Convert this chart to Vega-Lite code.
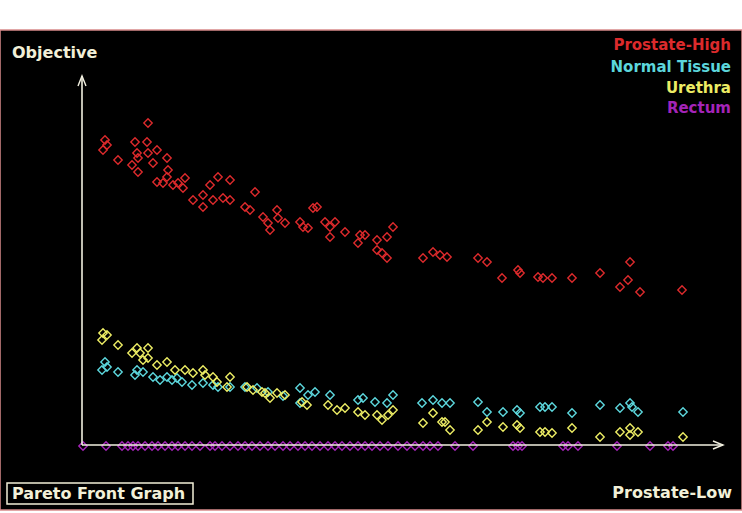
{
  "$schema": "https://vega.github.io/schema/vega-lite/v6.json",
  "width": 742,
  "height": 480,
  "autosize": {"type": "none"},
  "padding": {"left": 0, "right": 0, "top": 30, "bottom": 3},
  "background": "white",
  "config": {"view": {"fill": "black", "stroke": "#d88a8a", "strokeWidth": 1.5}},
  "datasets": {
    "points": [
      {"series":"Prostate-High","low":23,"objective":305},{"series":"Prostate-High","low":25,"objective":300},{"series":"Prostate-High","low":21,"objective":295},{"series":"Prostate-High","low":36,"objective":285},{"series":"Prostate-High","low":53,"objective":303},{"series":"Prostate-High","low":55,"objective":292},{"series":"Prostate-High","low":56,"objective":287},{"series":"Prostate-High","low":50,"objective":280},{"series":"Prostate-High","low":56,"objective":273},{"series":"Prostate-High","low":65,"objective":303},{"series":"Prostate-High","low":66,"objective":322},{"series":"Prostate-High","low":66,"objective":292},{"series":"Prostate-High","low":71,"objective":282},{"series":"Prostate-High","low":75,"objective":295},{"series":"Prostate-High","low":85,"objective":287},{"series":"Prostate-High","low":86,"objective":275},{"series":"Prostate-High","low":85,"objective":268},{"series":"Prostate-High","low":75,"objective":263},{"series":"Prostate-High","low":81,"objective":262},{"series":"Prostate-High","low":91,"objective":260},{"series":"Prostate-High","low":96,"objective":262},{"series":"Prostate-High","low":103,"objective":267},{"series":"Prostate-High","low":101,"objective":257},{"series":"Prostate-High","low":111,"objective":245},{"series":"Prostate-High","low":121,"objective":250},{"series":"Prostate-High","low":121,"objective":238},{"series":"Prostate-High","low":131,"objective":245},{"series":"Prostate-High","low":136,"objective":268},{"series":"Prostate-High","low":128,"objective":260},{"series":"Prostate-High","low":141,"objective":247},{"series":"Prostate-High","low":148,"objective":265},{"series":"Prostate-High","low":148,"objective":245},{"series":"Prostate-High","low":163,"objective":238},{"series":"Prostate-High","low":173,"objective":253},{"series":"Prostate-High","low":168,"objective":235},{"series":"Prostate-High","low":181,"objective":228},{"series":"Prostate-High","low":186,"objective":222},{"series":"Prostate-High","low":188,"objective":215},{"series":"Prostate-High","low":195,"objective":235},{"series":"Prostate-High","low":196,"objective":227},{"series":"Prostate-High","low":203,"objective":222},{"series":"Prostate-High","low":218,"objective":223},{"series":"Prostate-High","low":221,"objective":218},{"series":"Prostate-High","low":226,"objective":217},{"series":"Prostate-High","low":231,"objective":237},{"series":"Prostate-High","low":235,"objective":238},{"series":"Prostate-High","low":243,"objective":223},{"series":"Prostate-High","low":248,"objective":218},{"series":"Prostate-High","low":253,"objective":223},{"series":"Prostate-High","low":248,"objective":208},{"series":"Prostate-High","low":263,"objective":213},{"series":"Prostate-High","low":278,"objective":210},{"series":"Prostate-High","low":283,"objective":210},{"series":"Prostate-High","low":276,"objective":202},{"series":"Prostate-High","low":295,"objective":205},{"series":"Prostate-High","low":305,"objective":208},{"series":"Prostate-High","low":311,"objective":218},{"series":"Prostate-High","low":295,"objective":195},{"series":"Prostate-High","low":300,"objective":192},{"series":"Prostate-High","low":305,"objective":187},{"series":"Prostate-High","low":341,"objective":187},{"series":"Prostate-High","low":351,"objective":193},{"series":"Prostate-High","low":358,"objective":190},{"series":"Prostate-High","low":365,"objective":188},{"series":"Prostate-High","low":396,"objective":187},{"series":"Prostate-High","low":405,"objective":183},{"series":"Prostate-High","low":420,"objective":167},{"series":"Prostate-High","low":436,"objective":175},{"series":"Prostate-High","low":438,"objective":172},{"series":"Prostate-High","low":456,"objective":168},{"series":"Prostate-High","low":461,"objective":167},{"series":"Prostate-High","low":470,"objective":167},{"series":"Prostate-High","low":490,"objective":167},{"series":"Prostate-High","low":518,"objective":172},{"series":"Prostate-High","low":548,"objective":183},{"series":"Prostate-High","low":538,"objective":158},{"series":"Prostate-High","low":546,"objective":165},{"series":"Prostate-High","low":558,"objective":153},{"series":"Prostate-High","low":600,"objective":155},
      {"series":"Normal Tissue","low":23,"objective":83},{"series":"Normal Tissue","low":20,"objective":75},{"series":"Normal Tissue","low":25,"objective":78},{"series":"Normal Tissue","low":36,"objective":73},{"series":"Normal Tissue","low":55,"objective":75},{"series":"Normal Tissue","low":53,"objective":70},{"series":"Normal Tissue","low":61,"objective":73},{"series":"Normal Tissue","low":71,"objective":68},{"series":"Normal Tissue","low":78,"objective":65},{"series":"Normal Tissue","low":85,"objective":68},{"series":"Normal Tissue","low":90,"objective":65},{"series":"Normal Tissue","low":95,"objective":67},{"series":"Normal Tissue","low":100,"objective":63},{"series":"Normal Tissue","low":110,"objective":60},{"series":"Normal Tissue","low":121,"objective":62},{"series":"Normal Tissue","low":131,"objective":60},{"series":"Normal Tissue","low":136,"objective":58},{"series":"Normal Tissue","low":148,"objective":58},{"series":"Normal Tissue","low":163,"objective":58},{"series":"Normal Tissue","low":175,"objective":57},{"series":"Normal Tissue","low":186,"objective":53},{"series":"Normal Tissue","low":201,"objective":49},{"series":"Normal Tissue","low":218,"objective":57},{"series":"Normal Tissue","low":226,"objective":50},{"series":"Normal Tissue","low":233,"objective":53},{"series":"Normal Tissue","low":218,"objective":42},{"series":"Normal Tissue","low":248,"objective":50},{"series":"Normal Tissue","low":276,"objective":45},{"series":"Normal Tissue","low":281,"objective":47},{"series":"Normal Tissue","low":293,"objective":43},{"series":"Normal Tissue","low":305,"objective":42},{"series":"Normal Tissue","low":311,"objective":50},{"series":"Normal Tissue","low":340,"objective":42},{"series":"Normal Tissue","low":351,"objective":45},{"series":"Normal Tissue","low":360,"objective":42},{"series":"Normal Tissue","low":368,"objective":42},{"series":"Normal Tissue","low":396,"objective":43},{"series":"Normal Tissue","low":405,"objective":33},{"series":"Normal Tissue","low":421,"objective":33},{"series":"Normal Tissue","low":435,"objective":35},{"series":"Normal Tissue","low":438,"objective":32},{"series":"Normal Tissue","low":458,"objective":38},{"series":"Normal Tissue","low":463,"objective":38},{"series":"Normal Tissue","low":470,"objective":38},{"series":"Normal Tissue","low":490,"objective":32},{"series":"Normal Tissue","low":518,"objective":40},{"series":"Normal Tissue","low":538,"objective":37},{"series":"Normal Tissue","low":548,"objective":42},{"series":"Normal Tissue","low":550,"objective":38},{"series":"Normal Tissue","low":556,"objective":33},{"series":"Normal Tissue","low":601,"objective":33},
      {"series":"Urethra","low":21,"objective":112},{"series":"Urethra","low":25,"objective":110},{"series":"Urethra","low":20,"objective":105},{"series":"Urethra","low":36,"objective":100},{"series":"Urethra","low":55,"objective":97},{"series":"Urethra","low":50,"objective":92},{"series":"Urethra","low":58,"objective":92},{"series":"Urethra","low":66,"objective":97},{"series":"Urethra","low":66,"objective":87},{"series":"Urethra","low":61,"objective":85},{"series":"Urethra","low":75,"objective":80},{"series":"Urethra","low":85,"objective":83},{"series":"Urethra","low":93,"objective":75},{"series":"Urethra","low":103,"objective":75},{"series":"Urethra","low":111,"objective":72},{"series":"Urethra","low":121,"objective":75},{"series":"Urethra","low":123,"objective":70},{"series":"Urethra","low":131,"objective":68},{"series":"Urethra","low":135,"objective":63},{"series":"Urethra","low":148,"objective":68},{"series":"Urethra","low":145,"objective":58},{"series":"Urethra","low":165,"objective":58},{"series":"Urethra","low":171,"objective":55},{"series":"Urethra","low":180,"objective":53},{"series":"Urethra","low":183,"objective":52},{"series":"Urethra","low":188,"objective":47},{"series":"Urethra","low":195,"objective":52},{"series":"Urethra","low":203,"objective":50},{"series":"Urethra","low":220,"objective":43},{"series":"Urethra","low":225,"objective":40},{"series":"Urethra","low":246,"objective":40},{"series":"Urethra","low":255,"objective":35},{"series":"Urethra","low":263,"objective":37},{"series":"Urethra","low":276,"objective":33},{"series":"Urethra","low":283,"objective":30},{"series":"Urethra","low":295,"objective":30},{"series":"Urethra","low":300,"objective":25},{"series":"Urethra","low":306,"objective":30},{"series":"Urethra","low":311,"objective":35},{"series":"Urethra","low":351,"objective":32},{"series":"Urethra","low":360,"objective":23},{"series":"Urethra","low":341,"objective":22},{"series":"Urethra","low":363,"objective":23},{"series":"Urethra","low":368,"objective":15},{"series":"Urethra","low":396,"objective":15},{"series":"Urethra","low":405,"objective":23},{"series":"Urethra","low":421,"objective":18},{"series":"Urethra","low":435,"objective":20},{"series":"Urethra","low":438,"objective":17},{"series":"Urethra","low":458,"objective":13},{"series":"Urethra","low":463,"objective":13},{"series":"Urethra","low":470,"objective":12},{"series":"Urethra","low":490,"objective":17},{"series":"Urethra","low":518,"objective":8},{"series":"Urethra","low":538,"objective":13},{"series":"Urethra","low":548,"objective":17},{"series":"Urethra","low":548,"objective":10},{"series":"Urethra","low":556,"objective":13},{"series":"Urethra","low":601,"objective":8},
      {"series":"Rectum","low":1,"objective":-1},{"series":"Rectum","low":24,"objective":-1},{"series":"Rectum","low":40,"objective":-1},{"series":"Rectum","low":46,"objective":-1},{"series":"Rectum","low":51,"objective":-1},{"series":"Rectum","low":56,"objective":-1},{"series":"Rectum","low":63,"objective":-1},{"series":"Rectum","low":70,"objective":-1},{"series":"Rectum","low":76,"objective":-1},{"series":"Rectum","low":83,"objective":-1},{"series":"Rectum","low":90,"objective":-1},{"series":"Rectum","low":96,"objective":-1},{"series":"Rectum","low":103,"objective":-1},{"series":"Rectum","low":110,"objective":-1},{"series":"Rectum","low":118,"objective":-1},{"series":"Rectum","low":128,"objective":-1},{"series":"Rectum","low":133,"objective":-1},{"series":"Rectum","low":140,"objective":-1},{"series":"Rectum","low":148,"objective":-1},{"series":"Rectum","low":156,"objective":-1},{"series":"Rectum","low":163,"objective":-1},{"series":"Rectum","low":170,"objective":-1},{"series":"Rectum","low":178,"objective":-1},{"series":"Rectum","low":186,"objective":-1},{"series":"Rectum","low":193,"objective":-1},{"series":"Rectum","low":201,"objective":-1},{"series":"Rectum","low":208,"objective":-1},{"series":"Rectum","low":216,"objective":-1},{"series":"Rectum","low":223,"objective":-1},{"series":"Rectum","low":230,"objective":-1},{"series":"Rectum","low":238,"objective":-1},{"series":"Rectum","low":246,"objective":-1},{"series":"Rectum","low":253,"objective":-1},{"series":"Rectum","low":260,"objective":-1},{"series":"Rectum","low":268,"objective":-1},{"series":"Rectum","low":276,"objective":-1},{"series":"Rectum","low":283,"objective":-1},{"series":"Rectum","low":290,"objective":-1},{"series":"Rectum","low":298,"objective":-1},{"series":"Rectum","low":306,"objective":-1},{"series":"Rectum","low":316,"objective":-1},{"series":"Rectum","low":325,"objective":-1},{"series":"Rectum","low":333,"objective":-1},{"series":"Rectum","low":341,"objective":-1},{"series":"Rectum","low":348,"objective":-1},{"series":"Rectum","low":356,"objective":-1},{"series":"Rectum","low":373,"objective":-1},{"series":"Rectum","low":391,"objective":-1},{"series":"Rectum","low":431,"objective":-1},{"series":"Rectum","low":436,"objective":-1},{"series":"Rectum","low":440,"objective":-1},{"series":"Rectum","low":481,"objective":-1},{"series":"Rectum","low":486,"objective":-1},{"series":"Rectum","low":496,"objective":-1},{"series":"Rectum","low":535,"objective":-1},{"series":"Rectum","low":568,"objective":-1},{"series":"Rectum","low":586,"objective":-1},{"series":"Rectum","low":591,"objective":-1}
    ],
    "legend": [
      {"series":"Prostate-High","low":649,"objective":400},
      {"series":"Normal Tissue","low":649,"objective":378},
      {"series":"Urethra","low":649,"objective":357},
      {"series":"Rectum","low":649,"objective":337}
    ],
    "axes": [
      {"low":0,"objective":0,"low2":0,"objective2":369},
      {"low":0,"objective":0,"low2":641,"objective2":0}
    ],
    "arrows": [
      {"dir":"up","low":0,"objective":364},
      {"dir":"right","low":636,"objective":0}
    ],
    "leftTitles": [
      {"label":"Objective","low":-70,"objective":392},
      {"label":"Pareto Front Graph","low":-70,"objective":-49}
    ],
    "rightTitles": [
      {"label":"Prostate-Low","low":650,"objective":-48}
    ],
    "box": [
      {"low":-75,"objective":-38,"low2":111,"objective2":-59}
    ]
  },
  "encoding": {
    "x": {"field":"low","type":"quantitative","scale":{"domain":[-82,660],"nice":false,"zero":false},"axis":null},
    "y": {"field":"objective","type":"quantitative","scale":{"domain":[-65,415],"nice":false,"zero":false},"axis":null}
  },
  "layer": [
    {
      "data": {"name":"points"},
      "mark": {"type":"point","shape":"diamond","size":70,"filled":false,"strokeWidth":1.4,"opacity":1},
      "encoding": {
        "color": {"field":"series","type":"nominal","scale":{"domain":["Prostate-High","Normal Tissue","Urethra","Rectum"],"range":["#dc2a2c","#5cd6dc","#ecec64","#a424b8"]},"legend":null}
      }
    },
    {
      "data": {"name":"axes"},
      "mark": {"type":"rule","color":"#f2f0e0","strokeWidth":1.6},
      "encoding": {
        "x2": {"field":"low2"},
        "y2": {"field":"objective2"}
      }
    },
    {
      "data": {"name":"arrows"},
      "mark": {"type":"point","filled":false,"size":100,"strokeWidth":1.4,"color":"#f2f0e0","opacity":1},
      "encoding": {
        "shape": {"field":"dir","type":"nominal","scale":{"domain":["up","right"],"range":["M-0.8,1L0,-1L0.8,1","M-1,-0.8L1,0L-1,0.8"]},"legend":null}
      }
    },
    {
      "data": {"name":"legend"},
      "mark": {"type":"text","align":"right","baseline":"middle","font":"DejaVu Sans","fontWeight":"bold","fontSize":15},
      "encoding": {
        "text": {"field":"series"},
        "color": {"field":"series","type":"nominal","scale":{"domain":["Prostate-High","Normal Tissue","Urethra","Rectum"],"range":["#dc2a2c","#5cd6dc","#ecec64","#8a2cb4"]},"legend":null}
      }
    },
    {
      "data": {"name":"leftTitles"},
      "mark": {"type":"text","align":"left","baseline":"middle","font":"DejaVu Sans","fontWeight":"bold","fontSize":16,"color":"#f2f0d8"},
      "encoding": {
        "text": {"field":"label"}
      }
    },
    {
      "data": {"name":"rightTitles"},
      "mark": {"type":"text","align":"right","baseline":"middle","font":"DejaVu Sans","fontWeight":"bold","fontSize":16,"color":"#f2f0d8"},
      "encoding": {
        "text": {"field":"label"}
      }
    },
    {
      "data": {"name":"box"},
      "mark": {"type":"rect","filled":false,"stroke":"#f2f0d8","strokeWidth":1.5},
      "encoding": {
        "x2": {"field":"low2"},
        "y2": {"field":"objective2"}
      }
    }
  ]
}
